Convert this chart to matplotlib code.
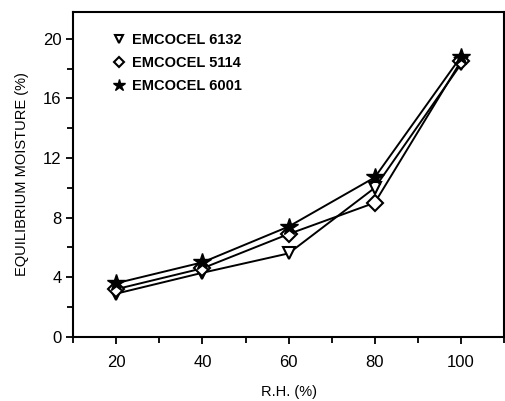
import matplotlib
matplotlib.use("Agg")
import matplotlib.pyplot as plt
from matplotlib.ticker import MultipleLocator

rh = [20, 40, 60, 80, 100]
emc_6132 = [2.9, 4.3, 5.6, 10.0, 18.3]
emc_5114 = [3.2, 4.6, 6.9, 9.0, 18.5]
emc_6001 = [3.6, 5.0, 7.4, 10.7, 18.8]
labels = ["EMCOCEL 6132", "EMCOCEL 5114", "EMCOCEL 6001"]

plt.rcParams['font.family'] = ['Liberation Sans', 'DejaVu Sans']

fig = plt.figure(figsize=(5.05, 4.01), dpi=100)
ax = fig.add_axes([0.145, 0.160, 0.853, 0.810])

ax.plot(rh, emc_6132, color="black", lw=1.4, marker="v", ms=9, mfc="white", mec="black", mew=1.5, label=labels[0])
ax.plot(rh, emc_5114, color="black", lw=1.4, marker="D", ms=8, mfc="white", mec="black", mew=1.5, label=labels[1])
ax.plot(rh, emc_6001, color="black", lw=1.4, marker="*", ms=13, mfc="black", mec="black", label=labels[2])

ax.set_xlim(10, 110)
ax.set_ylim(0, 21.8)
ax.xaxis.set_major_locator(MultipleLocator(20))
ax.xaxis.set_minor_locator(MultipleLocator(10))
ax.yaxis.set_major_locator(MultipleLocator(4))
ax.yaxis.set_minor_locator(MultipleLocator(2))
ax.set_xticks([20, 40, 60, 80, 100])
ax.tick_params(which="both", direction="out", width=1.3, labelsize=12, top=False, right=False)
ax.tick_params(axis="x", pad=8)
ax.tick_params(which="major", length=5)
ax.tick_params(which="minor", length=4)
for s in ax.spines.values():
    s.set_linewidth(1.5)

ax.set_xlabel("R.H. (%)", fontsize=10.5, labelpad=11)
ax.set_ylabel("EQUILIBRIUM MOISTURE (%)", fontsize=10.5, labelpad=10)

leg = ax.legend(loc="upper left", bbox_to_anchor=(0.065, 0.975), frameon=False, markerscale=0.7,
                handlelength=0.6, handletextpad=0.6, labelspacing=0.6, prop={"weight": "bold", "size": 10.5})
for h in leg.legend_handles:
    h.set_linestyle("None")

fig.savefig("out.png", dpi=100)
